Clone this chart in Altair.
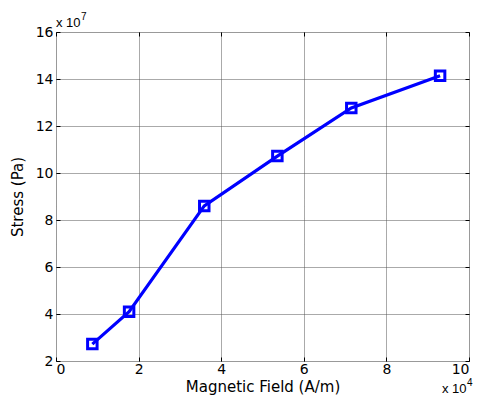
import altair as alt
import pandas as pd

field = [0.88, 1.77, 3.59, 5.36, 7.15, 9.30]      # x 10^4 A/m
stress = [2.72, 4.10, 8.60, 10.72, 12.77, 14.14]  # x 10^7 Pa
x_ticks = [0, 2, 4, 6, 8, 10]
y_ticks = [2, 4, 6, 8, 10, 12, 14, 16]

df = pd.DataFrame({"field": field, "stress": stress})
FONT = "DejaVu Sans"
AFONT = "Liberation Sans"

xs = alt.Scale(domain=[0, 10], nice=False, zero=False)
ys = alt.Scale(domain=[2, 16], nice=False, zero=False)

common = dict(domain=False, ticks=True, tickSize=4, tickColor="black", offset=-4,
              grid=True, gridColor="#555555", gridDash=[1, 1], gridWidth=1,
              labelFont=FONT, labelFontSize=14, labelColor="black",
              titleFont=FONT, titleFontSize=15, titleColor="black", titleFontWeight="normal")

xa = alt.Axis(values=x_ticks, orient="bottom", title="Magnetic Field (A/m)", labelPadding=1,
              titlePadding=3, **common)
ya = alt.Axis(values=y_ticks, orient="left", title="Stress (Pa)", labelPadding=3,
              titlePadding=10, **common)

xa2 = alt.Axis(values=x_ticks, orient="top", labels=False, title=None, domain=False, ticks=True,
               tickSize=4, tickColor="black", offset=-4, grid=False)
ya2 = alt.Axis(values=y_ticks, orient="right", labels=False, title=None, domain=False, ticks=True,
               tickSize=4, tickColor="black", offset=-4, grid=False)

line = alt.Chart(df).mark_line(color="#0000ff", strokeWidth=3.2).encode(
    x=alt.X("field:Q", scale=xs, axis=xa),
    y=alt.Y("stress:Q", scale=ys, axis=ya),
)
pts = alt.Chart(df).mark_point(shape="square", filled=False, color="#0000ff",
                               strokeWidth=3, size=90, opacity=1).encode(
    x=alt.X("field:Q", scale=xs, axis=xa2),
    y=alt.Y("stress:Q", scale=ys, axis=ya2),
)

ann = pd.DataFrame({"t": ["x 10", "7", "x 10", "4"],
                    "px": [0, 25, 386, 411], "py": [-5, -12, 361, 354],
                    "sz": [13, 10, 13, 10]})
labels = alt.Chart(ann).mark_text(font=AFONT, color="black", align="left", baseline="alphabetic").encode(
    x=alt.X("px:Q", scale=None), y=alt.Y("py:Q", scale=None), text="t:N",
    size=alt.Size("sz:Q", scale=None, legend=None))

chart = alt.layer(line, pts, labels).resolve_axis(x="independent", y="independent").properties(
    width=413, height=329,
    autosize=alt.AutoSizeParams(type="none"),
    padding={"left": 48, "top": 24, "right": 4, "bottom": 34},
).configure_view(stroke="black", strokeWidth=1.5).configure(background="white")

chart.save("out.html", embed_options={"renderer": "svg", "actions": False})
